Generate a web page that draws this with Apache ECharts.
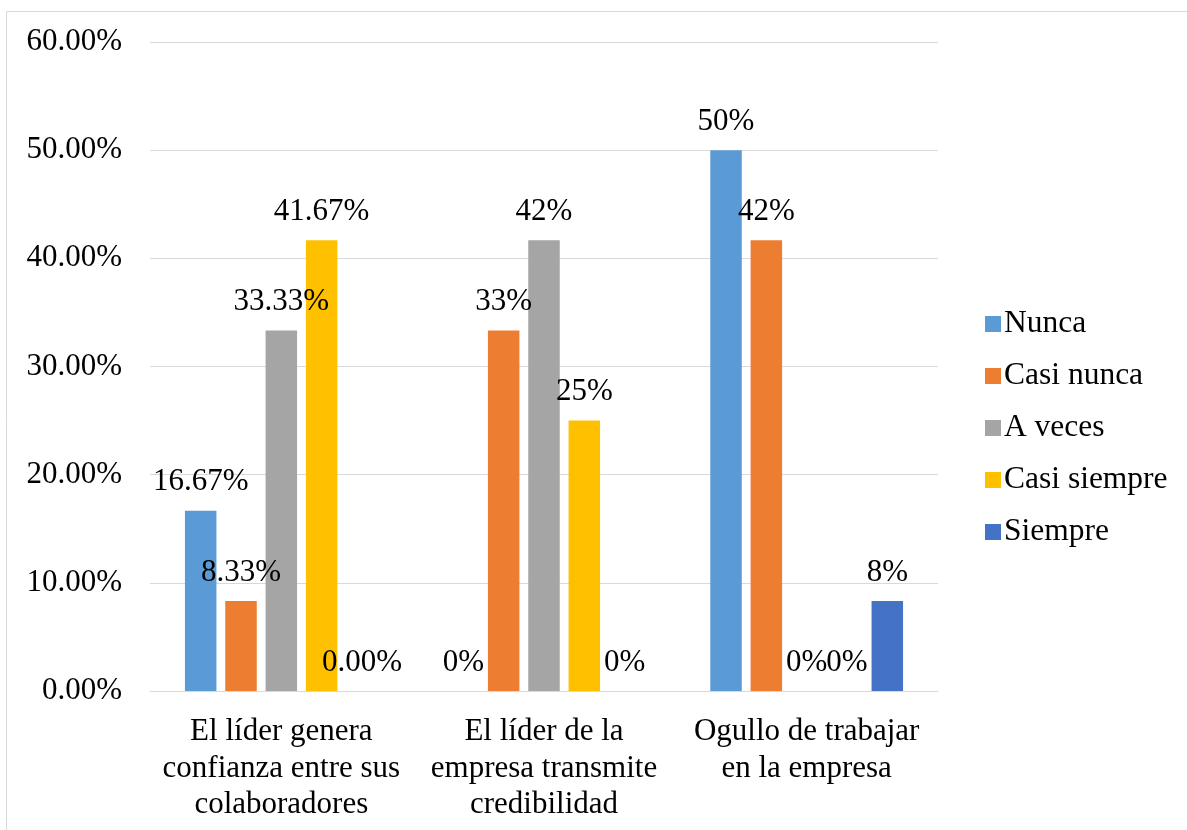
<!DOCTYPE html>
<html>
<head>
<meta charset="utf-8">
<script src="https://cdn.jsdelivr.net/npm/echarts@6/dist/echarts.min.js"></script>
<style>
  html, body { margin: 0; padding: 0; background: #ffffff; }
  #chart { width: 1187px; height: 830px; }
</style>
</head>
<body>
<div id="chart"></div>
<script>
const categories = [
  'El líder genera\nconfianza entre sus\ncolaboradores',
  'El líder de la\nempresa transmite\ncredibilidad',
  'Ogullo de trabajar\nen la empresa'
]
const seriesNames = ['Nunca', 'Casi nunca', 'A veces', 'Casi siempre', 'Siempre']
// percent values per series, one entry per category
const nunca = [16.67, 0, 50]
const casiNunca = [8.33, 33.33, 41.67]
const aVeces = [33.33, 41.67, 0]
const casiSiempre = [41.67, 25, 0]
const siempre = [0, 0, 8.33]
// decimals shown in the data labels of each category
const labelDecimals = [2, 0, 0]
const yTicks = [0, 10, 20, 30, 40, 50, 60]

const colors = ['#5B9BD5', '#ED7D31', '#A5A5A5', '#FFC000', '#4472C4']
const font = 'Liberation Serif, Times New Roman, serif'
const values = [nunca, casiNunca, aVeces, casiSiempre, siempre]

const chart = echarts.init(document.getElementById('chart'))
const option = {
  backgroundColor: '#ffffff',
  color: colors,
  textStyle: { fontFamily: font },
  graphic: [{
    type: 'rect',
    shape: { x: 6.5, y: 11.5, width: 1200, height: 900 },
    style: { fill: 'none', stroke: '#D9D9D9', lineWidth: 1 },
    silent: true
  }],
  grid: { left: 150, top: 42, right: 249, bottom: 139 },
  legend: {
    orient: 'vertical',
    left: 980,
    top: 303,
    itemWidth: 16,
    itemHeight: 16,
    itemGap: 20,
    icon: 'rect',
    data: seriesNames,
    textStyle: { fontFamily: font, fontSize: 31.5, lineHeight: 31, color: '#000000', padding: [0, 0, 0, -2] }
  },
  xAxis: {
    type: 'category',
    data: categories,
    axisLine: { lineStyle: { color: '#D9D9D9', width: 1 } },
    axisTick: { show: false },
    axisLabel: {
      interval: 0,
      margin: 23,
      fontFamily: font,
      fontSize: 31,
      lineHeight: 36.5,
      color: '#000000',
      align: 'center'
    }
  },
  yAxis: {
    type: 'value',
    min: yTicks[0],
    max: yTicks[yTicks.length - 1],
    interval: yTicks[1] - yTicks[0],
    axisLine: { show: false },
    axisTick: { show: false },
    splitLine: { lineStyle: { color: '#D9D9D9', width: 1 } },
    axisLabel: {
      margin: 28,
      fontFamily: font,
      fontSize: 31,
      color: '#000000',
      formatter: v => v.toFixed(2) + '%'
    }
  },
  series: seriesNames.map((name, i) => ({
    name: name,
    type: 'bar',
    barWidth: 31.5,
    barGap: '28%',
    data: values[i],
    label: {
      show: true,
      position: 'top',
      distance: 13,
      fontFamily: font,
      fontSize: 31,
      lineHeight: 31,
      color: '#000000',
      formatter: p => p.value.toFixed(labelDecimals[p.dataIndex]) + '%'
    }
  }))
}
chart.setOption(option)
</script>
</body>
</html>
